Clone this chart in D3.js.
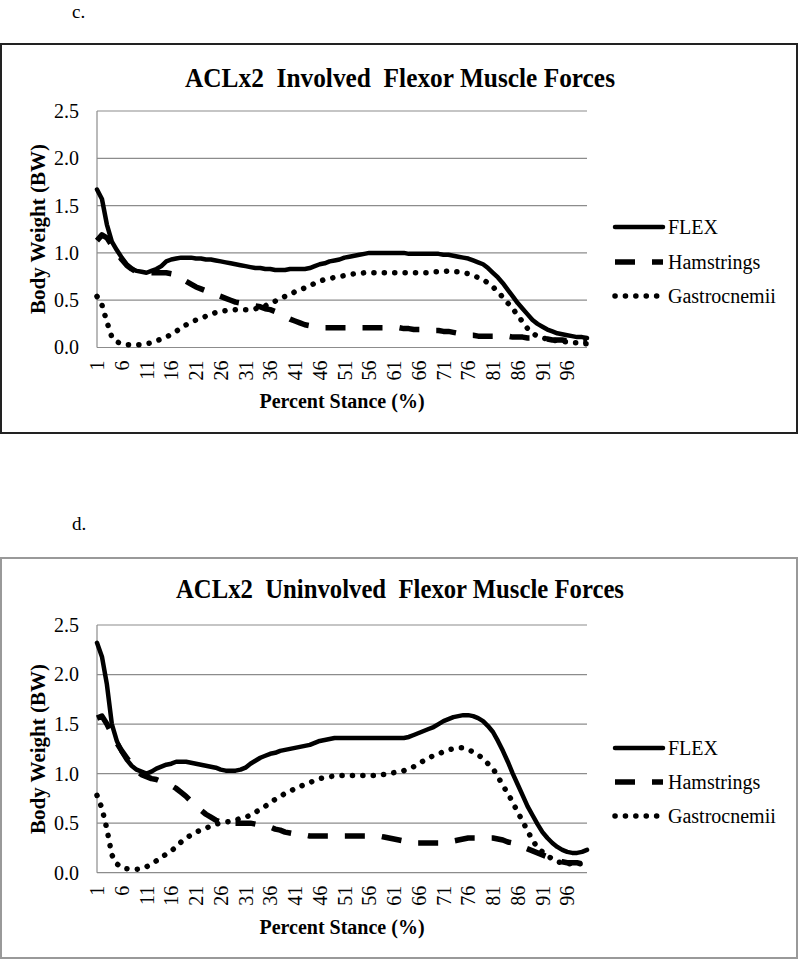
<!DOCTYPE html>
<html><head><meta charset="utf-8">
<script src="https://cdn.jsdelivr.net/npm/d3@7"></script>
<style>body{margin:0;background:#fff}svg{display:block}</style>
</head><body>
<svg id="c" width="800" height="960"></svg>
<script>
const stance = d3.range(1, 101);
const tickLabels = stance.filter(d => (d - 1) % 5 === 0);
const yTicks = [0, 0.5, 1.0, 1.5, 2.0, 2.5];
const seriesNames = ["FLEX", "Hamstrings", "Gastrocnemii"];

const involvedFlex = [1.67,1.57,1.30,1.12,1.03,0.95,0.88,0.83,0.81,0.80,
0.79,0.81,0.83,0.86,0.91,0.93,0.94,0.95,0.95,0.95,
0.94,0.94,0.93,0.93,0.92,0.91,0.90,0.89,0.88,0.87,
0.86,0.85,0.84,0.84,0.83,0.83,0.82,0.82,0.82,0.83,
0.83,0.83,0.83,0.84,0.86,0.88,0.89,0.91,0.92,0.93,
0.95,0.96,0.97,0.98,0.99,1.00,1.00,1.00,1.00,1.00,
1.00,1.00,1.00,0.99,0.99,0.99,0.99,0.99,0.99,0.99,
0.98,0.98,0.97,0.96,0.95,0.94,0.92,0.90,0.88,0.84,
0.79,0.74,0.68,0.61,0.54,0.47,0.41,0.35,0.29,0.25,
0.22,0.19,0.17,0.15,0.14,0.13,0.12,0.11,0.11,0.10];
const involvedHam = [1.13,1.19,1.16,1.08,1.00,0.93,0.87,0.83,0.80,0.79,
0.79,0.79,0.79,0.79,0.79,0.78,0.77,0.73,0.70,0.67,
0.64,0.62,0.60,0.58,0.56,0.54,0.52,0.50,0.48,0.47,
0.46,0.45,0.44,0.43,0.41,0.40,0.38,0.36,0.33,0.30,
0.28,0.26,0.24,0.23,0.22,0.21,0.21,0.21,0.21,0.21,
0.21,0.21,0.21,0.21,0.21,0.21,0.21,0.21,0.21,0.21,
0.21,0.21,0.20,0.20,0.19,0.19,0.19,0.18,0.18,0.18,
0.17,0.17,0.16,0.15,0.14,0.13,0.13,0.12,0.12,0.12,
0.12,0.12,0.12,0.12,0.11,0.11,0.11,0.10,0.10,0.09,
0.09,0.09,0.08,0.08,0.08,0.07,0.07,0.07,0.07,0.07];
const involvedGas = [0.54,0.45,0.27,0.11,0.06,0.04,0.03,0.03,0.03,0.03,
0.04,0.05,0.07,0.09,0.11,0.14,0.17,0.21,0.24,0.27,
0.29,0.31,0.33,0.35,0.37,0.38,0.39,0.39,0.40,0.40,
0.40,0.40,0.41,0.42,0.44,0.47,0.49,0.52,0.54,0.56,
0.59,0.61,0.63,0.65,0.68,0.70,0.72,0.73,0.74,0.75,
0.76,0.77,0.78,0.78,0.79,0.79,0.79,0.79,0.79,0.79,
0.79,0.79,0.79,0.79,0.79,0.79,0.79,0.79,0.80,0.80,
0.80,0.81,0.80,0.80,0.79,0.78,0.76,0.74,0.72,0.68,
0.64,0.59,0.53,0.47,0.41,0.34,0.27,0.20,0.15,0.12,
0.10,0.09,0.08,0.07,0.06,0.06,0.05,0.05,0.04,0.04];

const uninvolvedFlex = [2.32,2.18,1.90,1.50,1.33,1.22,1.14,1.08,1.04,1.02,
1.00,1.02,1.05,1.07,1.09,1.10,1.12,1.12,1.12,1.11,
1.10,1.09,1.08,1.07,1.06,1.04,1.03,1.03,1.03,1.04,
1.06,1.10,1.13,1.16,1.18,1.20,1.21,1.23,1.24,1.25,
1.26,1.27,1.28,1.29,1.31,1.33,1.34,1.35,1.36,1.36,
1.36,1.36,1.36,1.36,1.36,1.36,1.36,1.36,1.36,1.36,
1.36,1.36,1.36,1.37,1.39,1.41,1.43,1.45,1.47,1.50,
1.53,1.55,1.57,1.58,1.59,1.59,1.58,1.56,1.53,1.48,
1.42,1.33,1.23,1.12,1.00,0.89,0.78,0.67,0.58,0.49,
0.41,0.35,0.30,0.26,0.23,0.21,0.20,0.20,0.21,0.23];
const uninvolvedHam = [1.56,1.58,1.50,1.40,1.31,1.23,1.16,1.09,1.03,0.99,
0.97,0.95,0.94,0.92,0.90,0.88,0.85,0.81,0.77,0.72,
0.68,0.63,0.59,0.56,0.53,0.51,0.50,0.50,0.50,0.50,
0.50,0.50,0.49,0.48,0.47,0.46,0.44,0.43,0.41,0.40,
0.39,0.38,0.38,0.37,0.37,0.37,0.37,0.37,0.37,0.37,
0.37,0.37,0.37,0.37,0.37,0.37,0.37,0.37,0.36,0.35,
0.34,0.33,0.32,0.31,0.30,0.30,0.30,0.30,0.30,0.30,
0.30,0.31,0.32,0.33,0.34,0.35,0.35,0.35,0.35,0.35,
0.35,0.34,0.33,0.31,0.30,0.28,0.26,0.24,0.22,0.20,
0.18,0.16,0.14,0.12,0.11,0.10,0.10,0.10,0.09,0.09];
const uninvolvedGas = [0.78,0.65,0.44,0.18,0.09,0.05,0.04,0.035,0.035,0.04,
0.06,0.09,0.12,0.15,0.19,0.22,0.26,0.31,0.35,0.38,
0.41,0.43,0.45,0.47,0.49,0.50,0.51,0.52,0.53,0.55,
0.56,0.58,0.61,0.64,0.67,0.71,0.74,0.77,0.80,0.82,
0.85,0.87,0.89,0.91,0.93,0.95,0.96,0.97,0.975,0.98,
0.98,0.98,0.98,0.98,0.98,0.98,0.98,0.99,0.99,1.00,
1.01,1.02,1.03,1.05,1.07,1.10,1.13,1.16,1.18,1.20,
1.22,1.24,1.25,1.26,1.26,1.24,1.22,1.19,1.15,1.10,
1.05,0.97,0.88,0.80,0.71,0.61,0.52,0.42,0.33,0.25,
0.21,0.17,0.14,0.11,0.10,0.09,0.09,0.09,0.09,0.09];

const charts = [
  {letter: "c.", letterY: 18, title: "ACLx2  Involved  Flexor Muscle Forces", titleLen: 430, titleY: 87,
   box: [1, 44, 797, 433], boxColor: "#222", plotTop: 111, plotBottom: 347.5,
   xTitleY: 408, yTitleY: 229, legendY: [227, 262, 296],
   series: [involvedFlex, involvedHam, involvedGas]},
  {letter: "d.", letterY: 530, title: "ACLx2  Uninvolved  Flexor Muscle Forces", titleLen: 448, titleY: 598,
   box: [1, 558, 797, 958], boxColor: "#999", plotTop: 625, plotBottom: 872.7,
   xTitleY: 934, yTitleY: 749, legendY: [748, 782, 816],
   series: [uninvolvedFlex, uninvolvedHam, uninvolvedGas]}
];

const styles = [
  {w: 4.5, dash: null, cap: "round"},
  {w: 5.5, dash: "20 17", cap: "butt"},
  {w: 5.5, dash: "0.1 10.3", cap: "round"}
];

const svg = d3.select("#c");
const font = "'Liberation Serif','Times New Roman',serif";
const plotLeft = 97, plotRight = 587;

charts.forEach(ch => {
  const g = svg.append("g");
  g.append("text").attr("x", 72).attr("y", ch.letterY).attr("font-family", font)
    .attr("font-size", 19).text(ch.letter);
  g.append("rect").attr("x", ch.box[0]).attr("y", ch.box[1])
    .attr("width", ch.box[2] - ch.box[0]).attr("height", ch.box[3] - ch.box[1])
    .attr("fill", "none").attr("stroke", ch.boxColor).attr("stroke-width", 2);
  g.append("text").attr("x", 400).attr("y", ch.titleY).attr("text-anchor", "middle")
    .style("white-space", "pre")
    .attr("font-family", font).attr("font-weight", "bold").attr("font-size", 27)
    .attr("textLength", ch.titleLen).attr("lengthAdjust", "spacingAndGlyphs").text(ch.title);

  const x = d3.scalePoint().domain(stance).range([plotLeft, plotRight]);
  const y = d3.scaleLinear().domain([0, 2.5]).range([ch.plotBottom, ch.plotTop]);

  // gridlines
  g.append("g").selectAll("line").data(yTicks).join("line")
    .attr("x1", plotLeft).attr("x2", plotRight)
    .attr("y1", d => y(d)).attr("y2", d => y(d))
    .attr("stroke", "#8c8c8c").attr("stroke-width", 1.2);
  g.append("line").attr("x1", plotLeft).attr("x2", plotLeft)
    .attr("y1", ch.plotTop).attr("y2", ch.plotBottom).attr("stroke", "#8c8c8c").attr("stroke-width", 1.2);

  // y axis
  const yAxis = d3.axisLeft(y).tickValues(yTicks).tickFormat(d3.format(".1f")).tickSize(0).tickPadding(0);
  const ya = g.append("g").attr("transform", `translate(${plotLeft - 18},0)`).call(yAxis);
  ya.select(".domain").remove();
  ya.selectAll("text").attr("font-family", font).attr("font-size", 20).attr("fill", "#000");

  // x axis
  const xAxis = d3.axisBottom(x).tickValues(tickLabels).tickSize(0).tickPadding(0);
  const xa = g.append("g").attr("transform", `translate(0,${ch.plotBottom})`).call(xAxis);
  xa.select(".domain").remove();
  xa.selectAll("text").attr("font-family", font).attr("font-size", 20).attr("fill", "#000")
    .attr("transform", "rotate(-90)").attr("text-anchor", "end")
    .attr("x", -13).attr("y", 0).attr("dy", "0.33em");

  // axis titles
  g.append("text").attr("x", 342).attr("y", ch.xTitleY).attr("text-anchor", "middle")
    .attr("font-family", font).attr("font-weight", "bold").attr("font-size", 20).text("Percent Stance (%)");
  g.append("text").attr("transform", `translate(45,${ch.yTitleY}) rotate(-90)`).attr("text-anchor", "middle")
    .attr("font-family", font).attr("font-weight", "bold").attr("font-size", 21).text("Body Weight (BW)");

  // lines
  const line = d3.line().x((d, i) => x(stance[i])).y(d => y(d));
  ch.series.forEach((s, k) => {
    const st = styles[k];
    g.append("path").datum(s).attr("d", line).attr("fill", "none")
      .attr("stroke", "#000").attr("stroke-width", st.w)
      .attr("stroke-linecap", st.cap).attr("stroke-linejoin", "round")
      .attr("stroke-dasharray", st.dash);
  });

  // legend
  seriesNames.forEach((name, k) => {
    const st = styles[k];
    const ly = ch.legendY[k];
    g.append("line").attr("x1", 615).attr("x2", 663).attr("y1", ly).attr("y2", ly)
      .attr("stroke", "#000").attr("stroke-width", st.w)
      .attr("stroke-linecap", st.cap).attr("stroke-dasharray", st.dash);
    g.append("text").attr("x", 668).attr("y", ly).attr("dy", "0.33em")
      .attr("font-family", font).attr("font-size", 20).text(name);
  });
});
</script>
</body></html>
